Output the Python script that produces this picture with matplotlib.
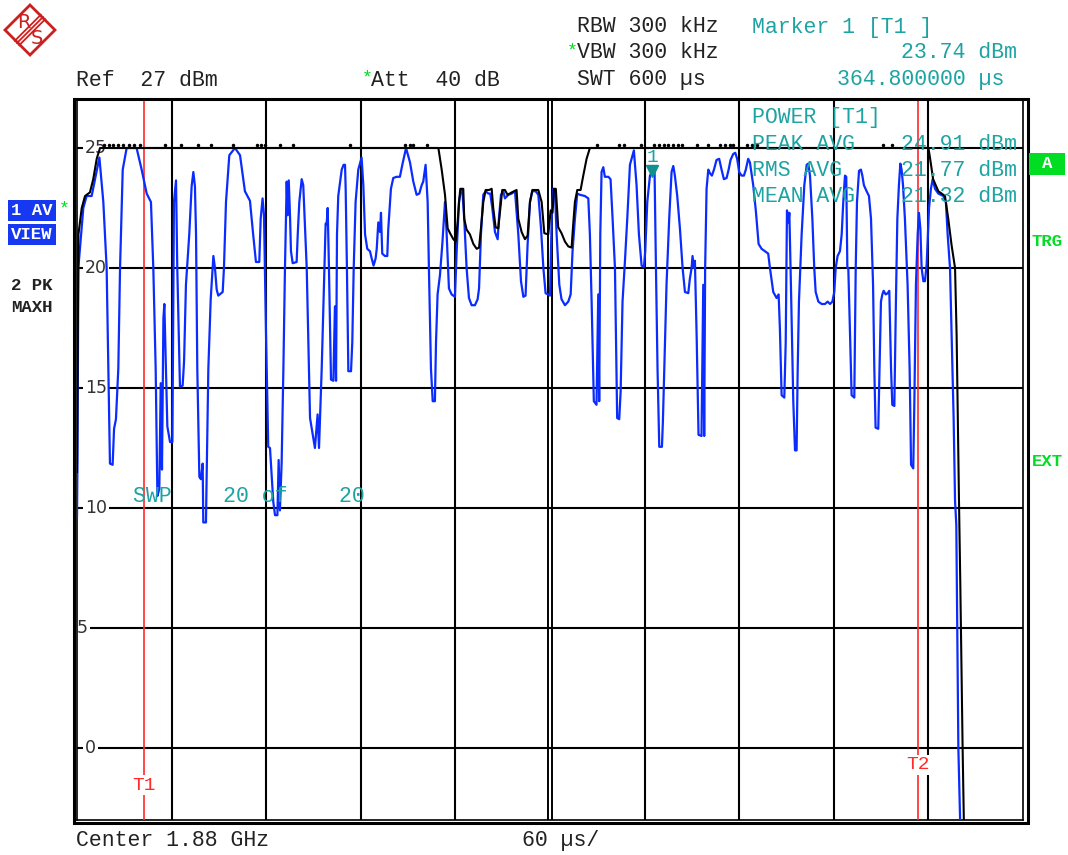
import matplotlib
matplotlib.use("Agg")
import matplotlib.pyplot as plt
from matplotlib.transforms import Affine2D
from matplotlib.patches import Rectangle, Polygon
from matplotlib.lines import Line2D

# trace 1: AV / VIEW (blue), time in us, level in dBm
avg_t = [0, 0.3, 0.85, 4.0, 6.1, 9.3, 14.2, 16.7, 18.8, 19.9, 20.9, 22.6, 23.5, 24.7, 26.2, 27.3,
         29.0, 31.5, 37.8, 41.0, 44.2, 46.9, 48.4, 49.9, 51.0, 52.2, 53.1, 53.9, 54.8, 55.4, 56.4,
         57.3, 59.0, 60.5, 61.5, 62.8, 63.6, 65.3, 67.0, 67.9, 69.1, 71.2, 72.7, 73.8, 74.8, 75.5,
         76.3, 77.6, 78.6, 79.7, 80.1, 81.8, 82.2, 83.3, 84.8, 86.5, 87.5, 88.6, 89.6, 92.4, 93.2,
         94.5, 96.6, 100.2, 103.4, 106.5, 109.7, 111.8, 113.5, 115.6, 116.5, 117.7, 118.6, 119.9,
         121.3, 122.4, 124.5, 125.6, 127.1, 127.9, 128.7, 129.8, 130.9, 131.9, 133.0, 133.6, 134.3,
         135.1, 135.7, 136.8, 139.3, 140.0, 141.0, 142.5, 143.5, 145.7, 147.8, 150.9, 152.6, 153.5,
         155.2, 156.9, 157.7, 158.3, 159.0, 159.8, 161.1, 162.6, 163.6, 164.3, 164.9, 165.7, 167.9,
         169.1, 170.0, 170.4, 171.2, 172.1, 173.8, 174.6, 175.5, 176.7, 178.4, 180.5, 181.6, 182.7,
         184.1, 185.8, 186.9, 188.1, 189.4, 190.1, 191.1, 192.2, 192.8, 193.6, 195.3, 196.8, 197.4,
         199.1, 200.6, 202.7, 204.8, 206.5, 208.7, 211.2, 213.3, 215.4, 217.1, 218.6, 219.6, 221.1,
         222.4, 223.2, 224.5, 225.6, 227.0, 227.7, 228.7, 230.2, 231.7, 233.4, 234.4, 235.9, 237.6,
         239.7, 240.8, 242.3, 243.5, 244.4, 245.6, 247.1, 248.6, 250.3, 252.4, 254.1, 255.0, 256.2,
         257.7, 259.2, 260.9, 262.1, 263.4, 265.1, 266.8, 267.6, 268.9, 270.4, 271.4, 273.6, 275.7,
         277.8, 279.9, 281.6, 283.1, 284.5, 285.8, 287.3, 288.8, 290.9, 292.6, 294.3, 295.8, 297.2,
         300.0, 300.6, 301.2, 302.1, 303.1, 304.2, 305.9, 307.3, 309.5, 311.6, 313.1, 314.3, 315.8,
         317.3, 319.0, 322.1, 324.3, 325.3, 326.4, 327.8, 329.5, 330.6, 331.2, 331.9, 332.7, 333.8,
         334.8, 337.0, 338.4, 339.7, 341.2, 342.6, 343.9, 344.8, 346.0, 347.5, 349.0, 350.7, 353.2,
         354.9, 356.4, 358.1, 359.6, 360.4, 361.7, 363.4, 365.5, 366.3, 367.2, 368.2, 369.3, 371.0,
         371.6, 372.5, 373.9, 375.6, 377.1, 378.2, 379.2, 380.7, 382.4, 384.1, 385.6, 387.7, 388.7,
         389.8, 390.4, 391.3, 391.9, 393.0, 394.2, 396.1, 397.2, 397.8, 398.4, 399.3, 400.4, 401.4,
         402.7, 404.0, 405.6, 407.3, 408.8, 410.3, 412.0, 413.3, 414.5, 416.2, 417.5, 418.7, 420.0,
         421.5, 423.0, 424.2, 425.7, 426.8, 428.9, 430.6, 432.3, 434.2, 436.3, 438.4, 439.5, 441.6,
         443.7, 445.0, 445.8, 446.9, 448.6, 449.5, 450.3, 451.2, 451.8, 452.8, 454.3, 455.4, 456.4,
         457.1, 457.9, 459.6, 461.3, 462.8, 463.8, 464.9, 466.4, 467.6, 468.5, 470.2, 472.3, 474.4,
         476.1, 477.6, 479.1, 480.3, 481.2, 482.4, 483.9, 485.0, 486.0, 487.1, 487.9, 488.6, 489.2,
         490.3, 491.3, 493.0, 493.9, 494.7, 496.0, 497.2, 498.1, 499.1, 500.8, 502.3, 503.6, 504.9,
         505.7, 506.5, 508.2, 508.9, 509.9, 510.8, 511.6, 512.9, 514.2, 515.2, 515.6, 516.3, 517.1,
         518.4, 519.4, 520.3, 521.3, 522.2, 523.0, 523.9, 525.1, 526.8, 528.1, 529.0, 530.4, 531.1,
         532.1, 533.2, 534.0, 534.9, 535.7, 536.8, 537.8, 538.9, 540.4, 541.6, 542.7, 544.2, 546.3,
         549.5, 551.1, 552.2, 553.7, 554.7, 556.0, 556.9, 557.7, 559.0, 560.3, 600]
avg_db = [9.6, 12.0, 20.0, 22.5, 23.0, 23.0, 24.6, 22.75, 20.0, 15.8, 11.85, 11.8, 13.3, 13.7, 15.8, 20.0,
          24.1, 25.0, 25.0, 24.1, 23.1, 22.75, 20.0, 15.8, 10.5, 10.8, 15.2, 11.6, 17.9, 18.5, 15.8,
          13.4, 12.75, 12.75, 22.75, 23.65, 20.0, 15.05, 15.1, 16.1, 19.3, 21.4, 23.4, 24.0, 23.4, 21.4,
          15.8, 11.3, 11.2, 11.85, 9.4, 9.4, 11.2, 15.8, 18.7, 20.5, 20.0, 19.1, 18.85, 19.0, 20.0,
          22.75, 24.7, 25.0, 24.7, 23.2, 22.8, 21.35, 20.25, 20.25, 22.05, 22.9, 22.2, 17.2,
          12.55, 12.5, 10.25, 9.7, 9.7, 12.0, 9.9, 11.9, 15.8, 20.0, 23.6, 22.2, 23.65,
          22.2, 20.7, 20.2, 20.25, 21.4, 22.75, 23.7, 23.45, 20.0, 13.75, 12.5, 13.9, 12.5,
          15.8, 20.0, 21.85, 21.8, 22.5, 20.0, 15.35, 15.3, 18.4, 15.3, 21.4, 23.0, 24.1,
          24.3, 24.3, 23.3, 20.0, 15.7, 15.7, 16.9, 20.0, 22.75, 24.1, 24.6, 23.45, 21.4,
          20.8, 20.7, 20.4, 20.1, 20.4, 20.8, 21.9, 21.5, 22.3, 20.6, 20.5, 20.5, 21.6,
          23.3, 23.75, 23.8, 23.8, 24.35, 25.0, 24.4, 23.6, 23.05, 23.1, 23.45, 23.6, 24.3,
          22.75, 20.0, 15.8, 14.45, 14.45, 16.9, 18.9, 19.7, 21.0, 22.75, 21.5, 19.15, 18.9,
          18.8, 20.7, 22.75, 23.25, 23.25, 22.05, 20.0, 18.75, 18.45, 18.45, 18.7, 19.15, 21.4,
          23.05, 23.2, 23.1, 23.1, 22.5, 21.5, 21.2, 22.05, 23.05, 23.2, 22.9, 23.05, 23.1,
          23.2, 21.4, 19.45, 18.8, 18.85, 21.0, 22.75, 23.2, 23.2, 23.05, 21.65, 20.0, 18.95,
          18.85, 20.7, 22.4, 23.3, 23.25, 21.4, 19.3, 18.7, 18.45, 18.6, 18.9, 20.7, 22.05,
          23.1, 23.05, 23.0, 22.9, 21.4, 18.6, 14.45, 14.3, 18.9, 14.45, 21.4, 24.0, 24.2,
          23.8, 23.8, 23.7, 22.05, 20.0, 13.75, 13.7, 14.85, 18.6, 20.25, 22.05, 24.3, 24.9,
          23.45, 21.4, 20.1, 20.05, 20.7, 22.75, 23.85, 24.1, 24.1, 20.0, 15.8, 12.55, 12.55,
          13.6, 15.8, 19.3, 22.05, 24.0, 24.25, 23.85, 23.0, 21.65, 20.0, 19.0, 18.95, 19.55,
          20.0, 20.5, 20.0, 20.3, 17.2, 13.05, 13.0, 19.3, 13.0, 20.0, 23.3, 24.1, 23.95,
          23.85, 24.1, 24.5, 24.55, 24.1, 23.7, 23.75, 24.1, 24.5, 24.75, 24.8, 24.55, 24.0,
          23.85, 23.85, 24.1, 24.55, 24.4, 23.45, 22.35, 21.0, 20.8, 20.7, 20.6, 20.0, 19.0,
          18.75, 18.9, 17.5, 14.7, 14.6, 16.9, 22.4, 21.9, 22.3, 19.3, 14.45, 12.4, 12.4,
          15.8, 18.6, 21.4, 23.45, 24.3, 24.35, 23.85, 22.05, 20.0, 19.0, 18.6, 18.5, 18.5,
          18.6, 18.5, 18.6, 19.0, 20.0, 20.5, 20.7, 21.4, 22.75, 23.85, 23.8, 20.0, 20.0,
          17.2, 14.7, 14.6, 20.0, 22.75, 24.05, 24.1, 23.85, 23.45, 23.2, 23.0, 22.05, 19.3,
          15.8, 13.35, 13.3, 15.55, 18.6, 18.9, 19.05, 18.9, 18.95, 19.05, 17.8, 15.8, 14.3,
          14.25, 18.6, 22.05, 23.45, 24.35, 24.1, 23.45, 22.05, 19.3, 15.8, 11.8, 11.65, 14.45,
          19.3, 21.4, 22.3, 21.65, 20.0, 19.45, 19.45, 20.15, 22.5, 23.3, 23.7, 23.3, 23.1,
          23.0, 22.75, 21.4, 20.0, 17.2, 13.75, 10.3, 9.3, 0.0, -3.5, -3.5]

# trace 2: PK / MAXH (black)
pk_t = [0, 0.5, 0.9, 3.0, 5.1, 8.2, 10.3, 12.5, 14.6, 229.2, 231.3, 233.4, 235.1, 236.6, 238.7,
        240.2, 241.4, 242.3, 243.1, 245.0, 245.6, 247.1, 249.2, 251.4, 253.5, 255.0, 256.2, 257.7,
        259.2, 261.3, 263.0, 264.0, 265.5, 267.2, 268.3, 269.7, 271.4, 273.1, 275.7, 278.8, 279.9,
        282.0, 284.1, 285.8, 287.3, 288.8, 292.6, 294.7, 296.4, 298.9, 300.4, 301.6, 302.5, 303.7,
        305.2, 307.3, 309.5, 311.6, 313.7, 314.7, 315.8, 317.3, 319.4, 321.1, 323.2, 325.3, 540.0,
        541.0, 543.0, 546.3, 550.5, 552.6, 554.7, 556.9, 557.9, 558.5, 559.4, 560.2, 561.7, 562.6, 600]
pk_db = [11.5, 17.0, 21.4, 22.5, 23.0, 23.15, 23.7, 24.55, 25.0, 25.0, 24.1, 23.05, 21.65, 21.45, 21.2,
         21.1, 21.9, 22.75, 23.3, 23.3, 22.05, 21.6, 21.4, 21.0, 20.8, 20.85, 21.65, 22.75,
         23.25, 23.25, 23.3, 22.5, 21.7, 21.65, 22.35, 23.25, 23.25, 23.05, 23.15, 23.25, 22.05,
         21.5, 21.2, 21.35, 22.75, 23.25, 23.25, 22.75, 21.45, 21.4, 22.4, 22.3, 23.3, 23.3,
         21.7, 21.45, 21.1, 20.9, 20.85, 21.8, 22.75, 23.25, 23.25, 23.85, 24.55, 25.0, 25.0,
         24.6, 23.7, 23.2, 23.0, 22.05, 20.95, 20.0, 17.2, 14.45, 10.3, 7.0, 0.0, -3.5, -3.5]
# tiny overshoots of the max-hold trace above the 25 dBm line
pk_spike_t = [17, 20, 23, 26, 29, 33, 36, 40, 56, 66, 77, 85, 99, 114, 117, 119, 129, 137, 173,
              208, 211, 213, 222, 330, 344, 347, 358, 366, 369, 372, 375, 378, 381, 384, 393, 400,
              408, 411, 414, 416, 425, 428, 431, 511, 517]
spike_db = 25.12

y_ticks = [0, 5, 10, 15, 20, 25]
y_tick_x = [8.5, 3.5, 12, 12, 12, 12]
t1_pos = 42.5
t2_pos = 533.5
marker_t = 364.8
marker_db = 23.74

MONO = "Liberation Mono"
FS = 15.5
TEAL = "#1ea3a3"
GREEN = "#00dd22"
RED = "#ff2a2a"
BLUE = "#0a2cff"

fig = plt.figure(figsize=(10.68, 8.55), dpi=100)
px = Affine2D().scale(1 / 1068, -1 / 855).translate(0, 1) + fig.transFigure

ax = fig.add_axes([77 / 1068, 1 - 820 / 855, 946 / 1068, 720 / 855])
ax.set_xlim(0, 600)
ax.set_ylim(-3, 27)
ax.set_xticks([])
ax.set_yticks([])
for s in ax.spines.values():
    s.set_linewidth(1.2)

# graticule
for t in range(60, 600, 60):
    if t == 300:
        ax.axvline(298.8, color="black", lw=1.4, zorder=1)
        ax.axvline(301.2, color="black", lw=1.4, zorder=1)
    else:
        ax.axvline(t, color="black", lw=1.5, zorder=1)
for d, xl in zip(y_ticks, y_tick_x):
    ax.axhline(d, color="black", lw=1.5, zorder=1)
    ax.text(xl, d, str(d), ha="center", va="center", fontsize=12.5, color="#333333",
            bbox=dict(facecolor="white", edgecolor="none", pad=1.2), zorder=2)

# outer frame
fig.add_artist(Rectangle((73.5, 99.5), 954, 723, transform=px, fill=False, lw=2.2, ec="black"))

# time line markers
for tp, lab, ly in [(t1_pos, "T1", -1.55), (t2_pos, "T2", -0.7)]:
    ax.axvline(tp, color=RED, lw=1.2, zorder=3)
    ax.text(tp, ly, lab, ha="center", va="center", color=RED, family=MONO, fontsize=14,
            bbox=dict(facecolor="white", edgecolor="none", pad=1), zorder=3.5)

# traces
ax.plot(avg_t, avg_db, color=BLUE, lw=1.6, zorder=4)
ax.plot(pk_t, pk_db, color="black", lw=1.5, zorder=5)
ax.plot(pk_spike_t, [spike_db] * len(pk_spike_t), ls="none", marker=".", ms=3, color="black", zorder=5)

# marker 1
ax.plot(marker_t, marker_db + 0.3, marker="v", color="#109090", ms=9, zorder=6)
ax.text(marker_t, 24.6, "1", ha="center", va="center", color=TEAL, family=MONO, fontsize=14, zorder=6)

# header texts
def txt(x, y, s, color="#222222", ha="left", size=FS, weight="normal"):
    fig.text(x, y, s, transform=px, ha=ha, va="center", color=color, family=MONO,
             fontsize=size, weight=weight, zorder=10)

txt(577, 27, "RBW 300 kHz")
txt(567, 51, "*", color=GREEN, size=13)
txt(577, 53, "VBW 300 kHz")
txt(577, 80, "SWT 600 \u00b5s")
txt(76, 80, "Ref  27 dBm")
txt(362, 78, "*", color=GREEN, size=13)
txt(371, 80, "Att  40 dB")
txt(752, 27, "Marker 1 [T1 ]", color=TEAL)
txt(1017, 53, "23.74 dBm", color=TEAL, ha="right")
txt(1004, 80, "364.800000 \u00b5s", color=TEAL, ha="right")
txt(76, 840, "Center 1.88 GHz")
txt(522, 840, "60 \u00b5s/")

# power measurement overlay
txt(752, 118, "POWER [T1]", color=TEAL)
for yy, lab, val in [(144, "PEAK AVG", "24.91 dBm"), (170, "RMS AVG", "21.77 dBm"),
                     (196, "MEAN AVG", "21.32 dBm")]:
    txt(752, yy, lab, color=TEAL)
    txt(1017, yy, val, color=TEAL, ha="right")

txt(133, 496, "SWP    20 of    20", color=TEAL)

# left trace labels
for yy, s in [(200, "1 AV"), (224, "VIEW")]:
    fig.add_artist(Rectangle((8, yy), 48, 21, transform=px, color="#1538f0", lw=0))
    txt(32, yy + 10.5, s, color="white", ha="center", size=12.5, weight="bold")
txt(59, 209, "*", color=GREEN, size=13)
txt(32, 285, "2 PK", ha="center", size=12.5, weight="bold")
txt(32, 307, "MAXH", ha="center", size=12.5, weight="bold")

# right side labels
fig.add_artist(Rectangle((1029, 153), 36, 22, transform=px, color=GREEN, lw=0))
txt(1047, 164, "A", color="white", ha="center", size=12.5, weight="bold")
txt(1047, 241, "TRG", color=GREEN, ha="center", size=12.5, weight="bold")
txt(1047, 461, "EXT", color=GREEN, ha="center", size=12.5, weight="bold")

# R&S logo
LOGO = "#cc2020"
fig.add_artist(Polygon([(30, 5), (55, 30), (30, 55), (5, 30)], closed=True, transform=px,
                       fill=False, ec=LOGO, lw=2))
for off in (-2.2, 0, 2.2):
    fig.add_artist(Line2D([43 + off, 17 + off], [17 + off, 43 + off], transform=px, color=LOGO, lw=1.3))
fig.text(24, 22, "R", transform=px, ha="center", va="center", color=LOGO, fontsize=14)
fig.text(37, 39, "S", transform=px, ha="center", va="center", color=LOGO, fontsize=14)

fig.savefig("out.png", dpi=100)
